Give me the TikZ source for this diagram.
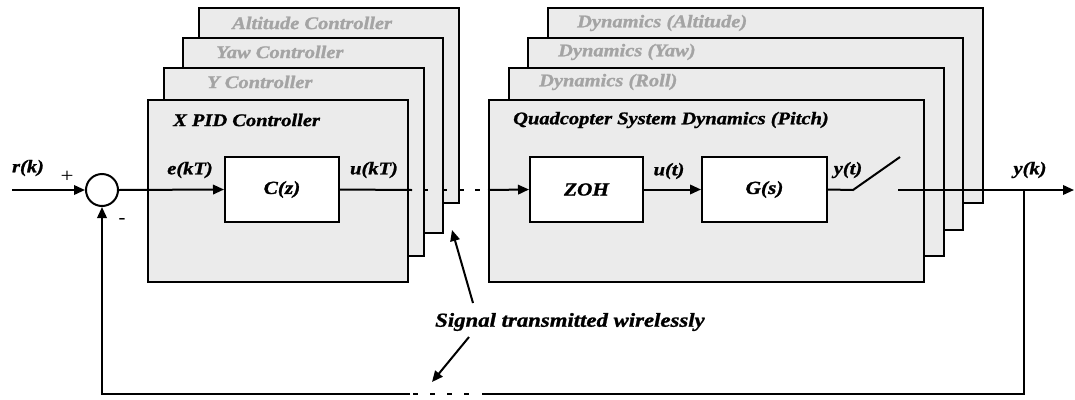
\documentclass[tikz,border=0pt]{standalone}
\usepackage{fontspec}
\setmainfont{Liberation Serif}[FakeStretch=1.15, BoldItalicFeatures={FakeBold=1.2}]
\usetikzlibrary{arrows.meta}
\definecolor{panelgray}{HTML}{EBEBEB}
\definecolor{ghostgray}{HTML}{A4A4A4}
\newcommand{\lowered}[1]{\raisebox{-4pt}{#1}}
\begin{document}
\begin{tikzpicture}[x=1pt,y=-1pt,
  wire/.style={line width=2pt},
  sig/.style={wire, -{Triangle[length=11pt,width=9.5pt]}},
  panel/.style={draw, line width=2pt, fill=panelgray, anchor=north west, inner sep=0pt},
  block/.style={draw, line width=2pt, fill=white, minimum height=65pt, inner sep=0pt,
    font=\fontsize{18.5}{20}\selectfont\bfseries\itshape},
  lbl/.style={font=\fontsize{17.8}{20}\selectfont\bfseries\itshape, inner sep=0pt},
  title/.style={lbl, anchor=west},
  ghost/.style={title, text=ghostgray},
  sign/.style={font=\fontsize{20}{22}\selectfont, inner sep=0pt},
]
\useasboundingbox (0,0) rectangle (1075,399);

% controller stack (back to front)
\node[panel, minimum width=260pt, minimum height=195pt] (altc)  at (198,7)  {};
\node[panel, minimum width=260pt, minimum height=195pt] (yawc)  at (182,37) {};
\node[panel, minimum width=260pt, minimum height=188pt] (yc)    at (163,67) {};
\node[panel, minimum width=260pt, minimum height=182pt] (xc)    at (147,99) {};

% plant stack (back to front)
\node[panel, minimum width=435pt, minimum height=195pt] (altd)  at (547,7)  {};
\node[panel, minimum width=435pt, minimum height=192pt] (yawd)  at (527,37) {};
\node[panel, minimum width=435pt, minimum height=188pt] (rolld) at (508,67) {};
\node[panel, minimum width=435pt, minimum height=182pt] (pitchd) at (488,99) {};

% panel titles
\node[ghost] (altct)  at (232,23)  {Altitude Controller};
\node[ghost] (yawct)  at (216,52)  {Yaw Controller};
\node[ghost] (yct)    at (207,82)  {Y Controller};
\node[title] (xct)    at (173,120) {X PID Controller};
\node[ghost] (altdt)  at (577,23)  {Dynamics (Altitude)};
\node[ghost] (yawdt)  at (558,52)  {Dynamics (Yaw)};
\node[ghost] (rolldt) at (539,82)  {Dynamics (Roll)};
\node[title] (pitchdt) at (513,120) {Quadcopter System Dynamics (Pitch)};

% blocks
\node[block, minimum width=114pt] (cz)  at (282,189.5)   {\lowered{C(z)}};
\node[block, minimum width=113pt] (zoh) at (586.5,189.5) {\lowered{ZOH}};
\node[block, minimum width=125pt] (gs)  at (764.5,189.5) {\lowered{G(s)}};
\node[circle, draw, line width=2pt, minimum size=32pt, inner sep=0pt] (sum) at (102,190) {};

% signal points
\coordinate (in)   at (12,190);
\coordinate (ua)   at (412,190);
\coordinate (ub)   at (488,190);
\coordinate (sw0)  at (853,190);
\coordinate (sw1)  at (900,157);
\coordinate (out0) at (898,190);
\coordinate (out)  at (1074,190);
\coordinate (tap)  at (1024,190);
\coordinate (fb1)  at (1024,394);
\coordinate (fb2)  at (482,394);
\coordinate (fb3)  at (410,394);
\coordinate (fb4)  at (102,394);

% forward path
\draw[sig] (in) -- (sum.west);
\draw[sig] (sum.east) -- (cz.west);
\draw[wire] (cz.east) -- (ua);
\foreach \a in {423,442,459,475} \draw[wire] (\a,190) -- ++(4.5,0);
\draw[sig] (ub) -- (zoh.west);
\draw[sig] (zoh.east) -- (gs.west);
\draw[wire] (gs.east) -- (sw0) -- (sw1);
\draw[sig] (out0) -- (out);

% feedback path
\draw[wire] (tap) -- (fb1) -- (fb2);
\foreach \a in {413,430,447,464} \draw[wire] (\a,394) -- ++(4.5,0);
\draw[sig] (fb3) -- (fb4) -- (sum.south);

% signal labels
\node[lbl] (rk)  at (28,168)  {r(k)};
\node[lbl] (ekt) at (190,170) {e(kT)};
\node[lbl] (ukt) at (374,170) {u(kT)};
\node[lbl] (ut)  at (669,171) {u(t)};
\node[lbl] (yt)  at (848,170) {y(t)};
\node[lbl] (yk)  at (1030,170) {y(k)};
\node[sign] (plus)  at (67,177)  {+};
\node[sign, font=\fontsize{18}{20}\selectfont\bfseries] (minus) at (122,221) {-};

% wireless note
\node[title, font=\fontsize{19.8}{22}\selectfont\bfseries\itshape] (note) at (435,322) {Signal transmitted wirelessly};
\coordinate (n1) at (473,303);
\coordinate (t1) at (452,230);
\coordinate (n2) at (469,337);
\coordinate (t2) at (432,382);
\draw[sig] (n1) -- (t1);
\draw[sig] (n2) -- (t2);
\end{tikzpicture}
\end{document}
